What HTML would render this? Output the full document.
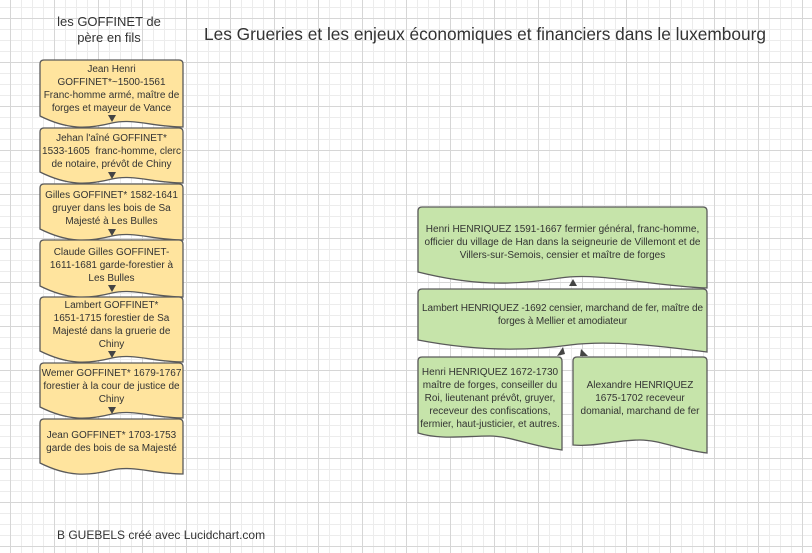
<!DOCTYPE html>
<html><head><meta charset="utf-8"><style>
html,body{margin:0;padding:0;}
body{width:812px;height:553px;overflow:hidden;background:#fff;
background-image:linear-gradient(#d6d6d6 1px,transparent 1px),linear-gradient(90deg,#d6d6d6 1px,transparent 1px),linear-gradient(#ececec 1px,transparent 1px),linear-gradient(90deg,#ececec 1px,transparent 1px);
background-size:44px 44px,44px 44px,11px 11px,11px 11px;background-position:0 18px,-34px 0,0 7px,-1px 0;
font-family:"Liberation Sans",sans-serif;position:relative;}
svg{position:absolute;left:0;top:0;}
.t{position:absolute;color:#333;text-align:center;font-size:10px;line-height:13px;display:flex;align-items:center;justify-content:center;box-sizing:border-box;}
</style></head><body>
<svg width="812" height="553" viewBox="0 0 812 553">
<g stroke="#5a5a5a" stroke-width="1.3" fill="#ffe49e">
<path d="M44,60 H179 Q183,60 183,64 V127 C154,127 133,118 112,123 C88,129 68,130 40,116 V64 Q40,60 44,60Z"/>
<path d="M44,128 H179 Q183,128 183,132 V183 C154,183 133,174 112,179 C88,185 68,186 40,172 V132 Q40,128 44,128Z"/>
<path d="M44,184 H179 Q183,184 183,188 V240 C154,240 133,231 112,236 C88,242 68,243 40,229 V188 Q40,184 44,184Z"/>
<path d="M44,240 H179 Q183,240 183,244 V297 C154,297 133,288 112,293 C88,299 68,300 40,286 V244 Q40,240 44,240Z"/>
<path d="M44,297 H179 Q183,297 183,301 V362 C154,362 133,353 112,358 C88,364 68,365 40,351 V301 Q40,297 44,297Z"/>
<path d="M44,363 H179 Q183,363 183,367 V418 C154,418 133,409 112,414 C88,420 68,421 40,407 V367 Q40,363 44,363Z"/>
<path d="M44,419 H179 Q183,419 183,423 V474 C154,474 133,465 112,470 C88,476 68,477 40,463 V423 Q40,419 44,419Z"/>
</g>
<g fill="#444">
<path d="M108,115 L116,115 L112,122Z"/><path d="M108,172 L116,172 L112,179Z"/>
<path d="M108,229 L116,229 L112,236Z"/><path d="M108,285 L116,285 L112,292Z"/>
<path d="M108,351 L116,351 L112,358Z"/><path d="M108,407 L116,407 L112,414Z"/>
</g>
<g stroke="#5a5a5a" stroke-width="1.3" fill="#c6e4aa">
<path d="M422,207 H703 Q707,207 707,211 V288 C650,286 600,272 560,278 C510,286 470,285 418,272 V211 Q418,207 422,207Z"/>
<path d="M422,289 H703 Q707,289 707,293 V352 C660,346 610,340 570,345 C520,352 470,350 418,340 V293 Q418,289 422,289Z"/>
<path d="M422,357 H558 Q562,357 562,361 V450 C530,446 510,436 490,436 C465,436 440,440 418,433 V361 Q418,357 422,357Z"/>
<path d="M577,357 H703 Q707,357 707,361 V453 C680,450 660,440 640,440 C615,440 595,447 573,445 V361 Q573,357 577,357Z"/>
</g>
<g fill="#444">
<path d="M569,286 L577,286 L573,279Z"/>
<path d="M557,356 L565,354 L563,347Z"/>
<path d="M580,356 L588,356 L581,349Z"/>
</g>
</svg>
<div style="position:absolute;left:50px;top:14px;width:118px;text-align:center;font-size:13px;line-height:16px;color:#333;">les GOFFINET de<br>père en fils</div>
<div style="position:absolute;left:204px;top:24px;font-size:17.3px;color:#333;white-space:nowrap;">Les Grueries et les enjeux économiques et financiers dans le luxembourg</div>
<div style="position:absolute;left:57px;top:528px;font-size:12px;color:#333;white-space:nowrap;">B GUEBELS créé avec Lucidchart.com</div>

<div class="t" style="left:40px;top:62px;width:143px;height:54px;">Jean Henri<br>GOFFINET*~1500-1561<br>Franc-homme armé, maître de<br>forges et mayeur de Vance</div>
<div class="t" style="left:40px;top:130px;width:143px;height:42px;">Jehan l'aîné GOFFINET*<br>1533-1605&nbsp; franc-homme, clerc<br>de notaire, prévôt de Chiny</div>
<div class="t" style="left:40px;top:186px;width:143px;height:44px;">Gilles GOFFINET* 1582-1641<br>gruyer dans les bois de Sa<br>Majesté à Les Bulles</div>
<div class="t" style="left:40px;top:242px;width:143px;height:46px;">Claude Gilles GOFFINET-<br>1611-1681 garde-forestier à<br>Les Bulles</div>
<div class="t" style="left:40px;top:299px;width:143px;height:52px;">Lambert GOFFINET*<br>1651-1715 forestier de Sa<br>Majesté dans la gruerie de<br>Chiny</div>
<div class="t" style="left:40px;top:365px;width:143px;height:42px;">Wemer GOFFINET* 1679-1767<br>forestier à la cour de justice de<br>Chiny</div>
<div class="t" style="left:40px;top:421px;width:143px;height:42px;">Jean GOFFINET* 1703-1753<br>garde des bois de sa Majesté</div>

<div class="t" style="left:420px;top:209px;width:285px;height:66px;">Henri HENRIQUEZ 1591-1667 fermier général, franc-homme, officier du village de Han dans la seigneurie de Villemont et de Villers-sur-Semois, censier et maître de forges</div>
<div class="t" style="left:416px;top:291px;width:293px;height:48px;letter-spacing:-0.1px;">Lambert HENRIQUEZ -1692 censier, marchand de fer, maître de<br>forges à Mellier et amodiateur</div>
<div class="t" style="left:418px;top:359px;width:144px;height:78px;">Henri HENRIQUEZ 1672-1730 maître de forges, conseiller du Roi, lieutenant prévôt, gruyer, receveur des confiscations, fermier, haut-justicier, et autres.</div>
<div class="t" style="left:578px;top:359px;width:124px;height:78px;">Alexandre HENRIQUEZ 1675-1702 receveur domanial, marchand de fer</div>
</body></html>
